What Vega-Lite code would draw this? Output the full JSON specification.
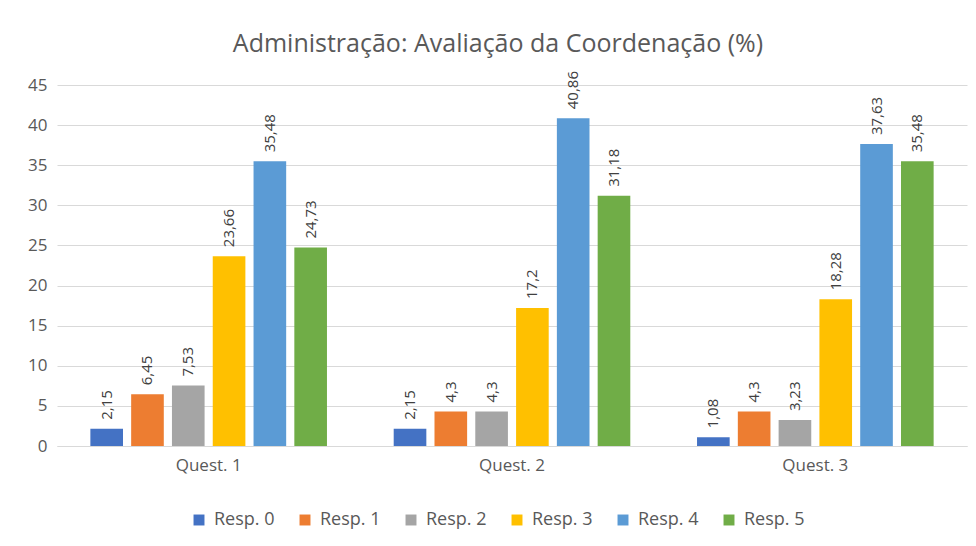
{
  "$schema": "https://vega.github.io/schema/vega-lite/v6.json",
  "autosize": "none",
  "width": 910,
  "height": 361,
  "padding": {"left": 57, "top": 85, "right": 9, "bottom": 100},
  "background": "white",
  "title": {
    "text": "Administração: Avaliação da Coordenação (%)",
    "fontSize": 25,
    "font": "Open Sans",
    "fontWeight": "normal",
    "color": "#595959",
    "anchor": "middle",
    "offset": 14,
    "dx": -14
  },
  "data": {
    "values": [
      {"q": "Quest. 1", "r": "Resp. 0", "v": 2.15},
      {"q": "Quest. 1", "r": "Resp. 1", "v": 6.45},
      {"q": "Quest. 1", "r": "Resp. 2", "v": 7.53},
      {"q": "Quest. 1", "r": "Resp. 3", "v": 23.66},
      {"q": "Quest. 1", "r": "Resp. 4", "v": 35.48},
      {"q": "Quest. 1", "r": "Resp. 5", "v": 24.73},
      {"q": "Quest. 2", "r": "Resp. 0", "v": 2.15},
      {"q": "Quest. 2", "r": "Resp. 1", "v": 4.3},
      {"q": "Quest. 2", "r": "Resp. 2", "v": 4.3},
      {"q": "Quest. 2", "r": "Resp. 3", "v": 17.2},
      {"q": "Quest. 2", "r": "Resp. 4", "v": 40.86},
      {"q": "Quest. 2", "r": "Resp. 5", "v": 31.18},
      {"q": "Quest. 3", "r": "Resp. 0", "v": 1.08},
      {"q": "Quest. 3", "r": "Resp. 1", "v": 4.3},
      {"q": "Quest. 3", "r": "Resp. 2", "v": 3.23},
      {"q": "Quest. 3", "r": "Resp. 3", "v": 18.28},
      {"q": "Quest. 3", "r": "Resp. 4", "v": 37.63},
      {"q": "Quest. 3", "r": "Resp. 5", "v": 35.48}
    ]
  },
  "encoding": {
    "x": {
      "field": "q", "type": "nominal", "title": null,
      "scale": {"paddingInner": 0.22, "paddingOuter": 0.11},
      "axis": {"labelAngle": 0, "ticks": false, "domainColor": "#D9D9D9", "labelPadding": 11, "grid": false, "labelFontSize": 17, "labelFont": "Open Sans", "labelColor": "#595959"}
    },
    "xOffset": {"field": "r", "type": "nominal", "scale": {"paddingInner": 0.2, "paddingOuter": 0}},
    "y": {
      "field": "v", "type": "quantitative", "title": null,
      "scale": {"domain": [0, 45], "nice": false},
      "axis": {"values": [0,5,10,15,20,25,30,35,40,45], "domain": false, "ticks": false, "labelPadding": 10, "gridColor": "#D9D9D9", "labelFontSize": 17, "labelFont": "Open Sans", "labelColor": "#595959"}
    }
  },
  "layer": [
    {
      "mark": {"type": "bar"},
      "encoding": {
        "color": {
          "field": "r", "type": "nominal", "title": null,
          "scale": {"range": ["#4472C4", "#ED7D31", "#A5A5A5", "#FFC000", "#5B9BD5", "#70AD47"]},
          "legend": {"orient": "none", "legendX": 133, "legendY": 426, "direction": "horizontal", "columns": 6, "symbolType": "square", "symbolSize": 120, "symbolStrokeWidth": 0, "labelFontSize": 18, "labelColor": "#595959", "labelFont": "Open Sans", "columnPadding": 21, "labelOffset": 6}
        }
      }
    },
    {
      "mark": {"type": "text", "angle": 270, "align": "left", "baseline": "middle", "dx": 9, "fontSize": 15, "font": "Open Sans", "color": "#404040"},
      "encoding": {
        "text": {"field": "v", "type": "quantitative", "format": "~g"}
      }
    }
  ],
  "config": {
    "locale": {"number": {"decimal": ",", "thousands": ".", "grouping": [3], "currency": ["", " €"]}},
    "view": {"stroke": null}
  }
}
